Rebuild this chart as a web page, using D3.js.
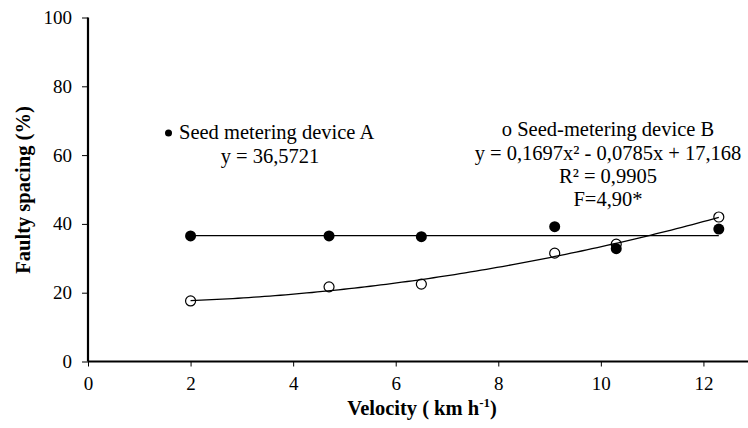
<!DOCTYPE html>
<html>
<head>
<meta charset="utf-8">
<script src="https://cdn.jsdelivr.net/npm/d3@7"></script>
<style>
  body { margin: 0; background: #fff; }
  svg text { font-family: "Liberation Serif", "Tinos", "Times New Roman", "DejaVu Serif", serif; fill: #000; }
</style>
</head>
<body>
<div class="container"></div>
<script>
// velocity (km/h) and faulty spacing (%)
var velocity = [2, 4.7, 6.5, 9.1, 10.3, 12.3];
var deviceA = [36.5, 36.5, 36.3, 39.2, 32.8, 38.5];
var deviceB = [17.6, 21.7, 22.5, 31.5, 34.1, 42.0];

var xTicks = [0, 2, 4, 6, 8, 10, 12];
var yTicks = [0, 20, 40, 60, 80, 100];

// fitted equations printed on the chart
var fitA = [36.5721];                  // constant
var fitB = [0.1697, -0.0785, 17.168];  // a, b, c

var labelsA = ["Seed metering device A", "y = 36,5721"];
var labelsB = ["o Seed-metering device B", "y = 0,1697x² - 0,0785x + 17,168", "R² = 0,9905", "F=4,90*"];

(function(){
    var W = 748, H = 428;
    var svg = d3.select('.container').append('svg')
        .attr('width', W).attr('height', H);

    var x = d3.scaleLinear().domain([0, 14]).range([88, 806]);
    var y = d3.scaleLinear().domain([0, 100]).range([361.5, 17.5]);

    // axes
    var xAxis = svg.append('g')
        .attr('transform', 'translate(0,' + y(0) + ')')
        .call(d3.axisBottom(x).tickValues(xTicks).tickSize(5).tickPadding(10));
    xAxis.select('.domain').attr('d', 'M' + x(0) + ',0H' + W).attr('stroke-width', 2.2);
    xAxis.selectAll('text').attr('font-size', 19);

    var yAxis = svg.append('g')
        .attr('transform', 'translate(' + x(0) + ',0)')
        .call(d3.axisLeft(y).tickValues(yTicks).tickSize(6).tickPadding(10));
    yAxis.select('.domain').attr('d', 'M0,' + y(0) + 'V' + y(100)).attr('stroke-width', 2.2);
    yAxis.selectAll('text').attr('font-size', 19);

    // axis titles
    svg.append('text')
        .attr('transform', 'translate(30,190) rotate(-90)')
        .attr('text-anchor', 'middle')
        .attr('font-size', 20.5).attr('font-weight', 'bold')
        .text('Faulty spacing (%)');

    var xt = svg.append('text')
        .attr('x', 422).attr('y', 415)
        .attr('text-anchor', 'middle')
        .attr('font-size', 20.5).attr('font-weight', 'bold');
    xt.append('tspan').text('Velocity ( km h');
    xt.append('tspan').attr('dy', -8).attr('font-size', 13).text('-1');
    xt.append('tspan').attr('dy', 8).text(')');

    // trend lines
    var xMin = d3.min(velocity), xMax = d3.max(velocity);
    svg.append('line')
        .attr('x1', x(xMin)).attr('x2', x(xMax))
        .attr('y1', y(fitA[0])).attr('y2', y(fitA[0]))
        .attr('stroke', '#000').attr('stroke-width', 1.2);

    var curve = d3.range(0, 101).map(function(i){
        var v = xMin + (xMax - xMin) * i / 100;
        return [v, fitB[0] * v * v + fitB[1] * v + fitB[2]];
    });
    svg.append('path')
        .datum(curve)
        .attr('fill', 'none').attr('stroke', '#000').attr('stroke-width', 1.3)
        .attr('d', d3.line().x(function(d){ return x(d[0]); }).y(function(d){ return y(d[1]); }));

    // points
    svg.selectAll('circle.a')
        .data(velocity)
        .enter().append('circle').attr('class', 'a')
        .attr('cx', function(d){ return x(d); })
        .attr('cy', function(d, i){ return y(deviceA[i]); })
        .attr('r', 5.5).attr('fill', '#000');

    svg.selectAll('circle.b')
        .data(velocity)
        .enter().append('circle').attr('class', 'b')
        .attr('cx', function(d){ return x(d); })
        .attr('cy', function(d, i){ return y(deviceB[i]); })
        .attr('r', 5).attr('fill', 'none').attr('stroke', '#000').attr('stroke-width', 1.2);

    // annotations
    svg.append('circle').attr('cx', 168.5).attr('cy', 133).attr('r', 3.5).attr('fill', '#000');
    svg.append('text').attr('x', 179).attr('y', 139).attr('font-size', 20.5).text(labelsA[0]);
    svg.append('text').attr('x', 270).attr('y', 163).attr('text-anchor', 'middle').attr('font-size', 20.5).text(labelsA[1]);

    var by = [136, 160, 183, 206];
    labelsB.forEach(function(t, i){
        svg.append('text').attr('x', 608).attr('y', by[i])
            .attr('text-anchor', 'middle').attr('font-size', 20.5).text(t);
    });
})();
</script>
</body>
</html>
